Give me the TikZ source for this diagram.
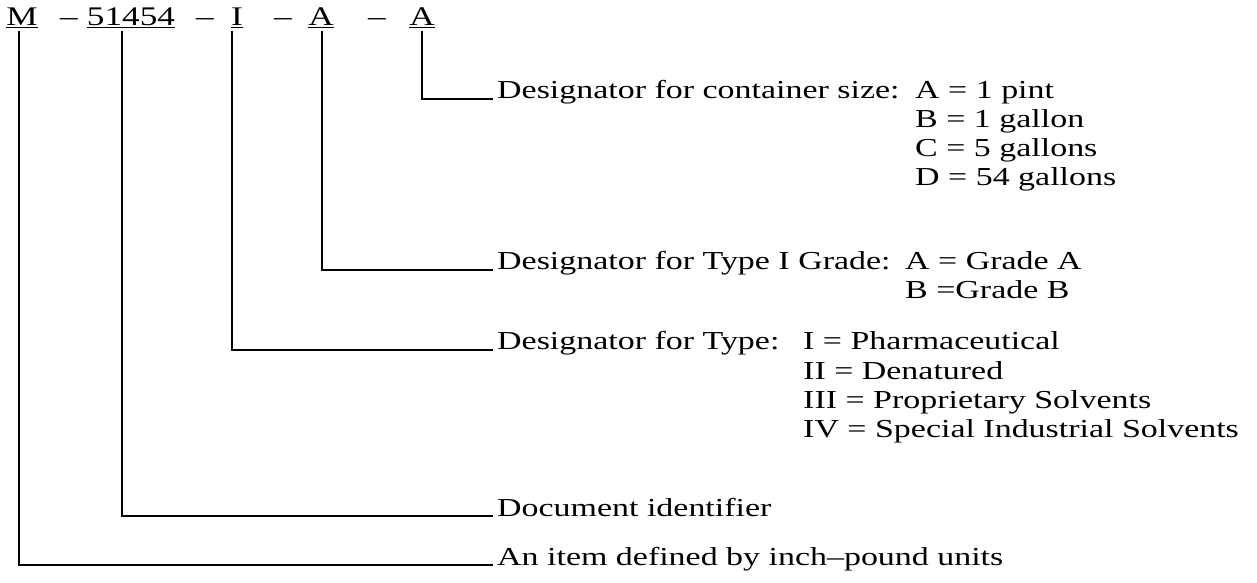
\documentclass[tikz,border=0pt]{standalone}
\usepackage{fontspec}
\setmainfont{Liberation Serif}[FakeStretch=1.31]
\begin{document}
\begin{tikzpicture}[x=1bp,y=-1bp,
  ttl/.style={anchor=base,inner sep=0pt,font=\fontsize{27}{30}\selectfont},
  lbl/.style={anchor=base west,inner sep=0pt,font=\fontsize{26}{28}\selectfont},
  conn/.style={line width=1.8bp,shorten >=4bp}]
\useasboundingbox (0,0) rectangle (1257,583);
% title
\node[ttl] (tM) at (22,26) {\underline{M}};
\node[ttl] (d1) at (69,26) {--};
\node[ttl] (tN) at (131,26) {\underline{51454}};
\node[ttl] (d2) at (205,26) {--};
\node[ttl] (tI) at (237,26) {\underline{I}};
\node[ttl] (d3) at (283,26) {--};
\node[ttl] (tA) at (321,26) {\underline{A}};
\node[ttl] (d4) at (377,26) {--};
\node[ttl] (tB) at (422,26) {\underline{A}};
% anchor points below the title parts
\coordinate (cM) at (19,31);
\coordinate (cN) at (122,31);
\coordinate (cI) at (232,31);
\coordinate (cA) at (322,31);
\coordinate (cB) at (422,31);
% labels
\node[lbl] (l1) at (497,99) {Designator for container size:};
\node[lbl] (v1a) at (915,99) {A = 1 pint};
\node[lbl] (v1b) at (915,128) {B = 1 gallon};
\node[lbl] (v1c) at (915,157) {C = 5 gallons};
\node[lbl] (v1d) at (915,186) {D = 54 gallons};
\node[lbl] (l2) at (497,270) {Designator for Type I Grade:};
\node[lbl] (v2a) at (905,270) {A = Grade A};
\node[lbl] (v2b) at (905,299) {B =Grade B};
\node[lbl] (l3) at (497,350) {Designator for Type:};
\node[lbl] (v3a) at (803,350) {I = Pharmaceutical};
\node[lbl] (v3b) at (803,379) {II = Denatured};
\node[lbl] (v3c) at (803,408) {III = Proprietary Solvents};
\node[lbl] (v3d) at (803,437) {IV = Special Industrial Solvents};
\node[lbl] (l4) at (497,516) {Document identifier};
\node[lbl] (l5) at (497,565) {An item defined by inch--pound units};
% connectors
\draw[conn] (cB) |- (l1.base west);
\draw[conn] (cA) |- (l2.base west);
\draw[conn] (cI) |- (l3.base west);
\draw[conn] (cN) |- (l4.base west);
\draw[conn] (cM) |- (l5.base west);
\end{tikzpicture}
\end{document}
